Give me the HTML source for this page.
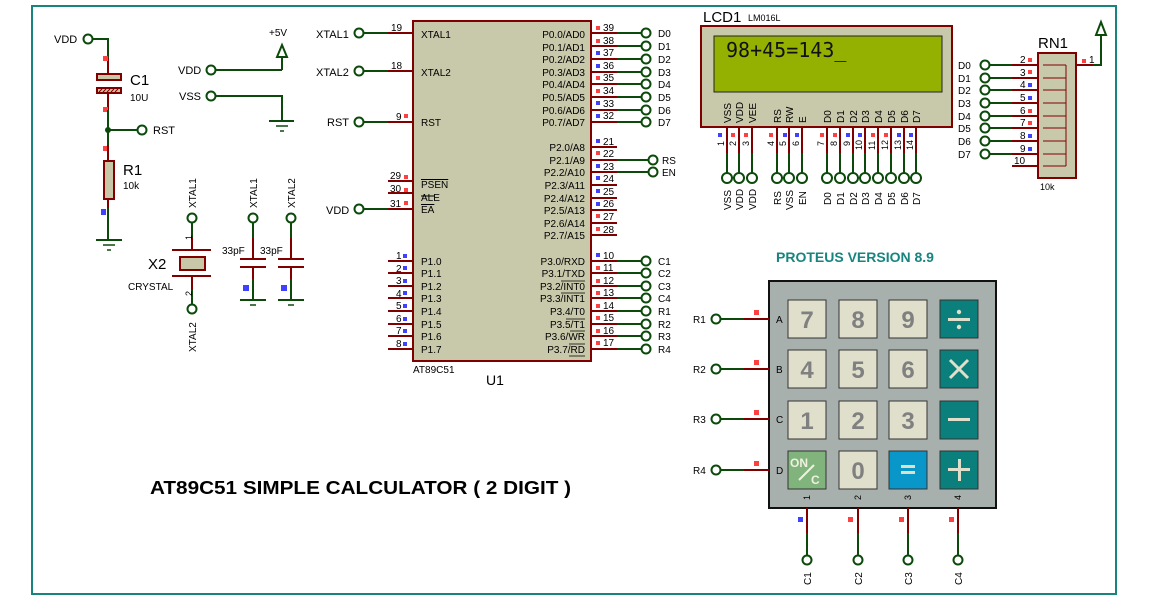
<!DOCTYPE html>
<html><head><meta charset="utf-8"><style>
html,body{margin:0;padding:0;background:#fff;}
svg{display:block;font-family:"Liberation Sans",Arial,sans-serif;}
.w{stroke:#0b4a0b;stroke-width:2;fill:none}
.p{stroke:#800000;stroke-width:2;fill:none}
.t{stroke:#0b4a0b;stroke-width:2;fill:#fff}
.s{font-size:10px;fill:#000}
.m{font-size:11px;fill:#000}
.r{fill:#ff4040}.b{fill:#4040ff}
.key{fill:#e0dfcc;stroke:#333;stroke-width:1}
.kt{font-size:24px;font-weight:bold;fill:#808080;text-anchor:middle}
</style></head><body>
<svg width="1155" height="599" viewBox="0 0 1155 599" xmlns="http://www.w3.org/2000/svg">
<rect x="32" y="6" width="1084" height="588" fill="none" stroke="#17847f" stroke-width="2"/>

<!-- VDD / C1 / R1 -->
<text x="54" y="43" class="m">VDD</text>
<circle cx="88" cy="39" r="4.5" class="t"/>
<path d="M93 39H108V58" class="w"/>
<path d="M108 58V73M108 93V110" class="p"/>
<rect x="103" y="56" width="5" height="5" class="r"/>
<rect x="97" y="74" width="24" height="6" fill="#c8c8a8" stroke="#800000" stroke-width="2"/>
<rect x="97" y="88" width="24" height="5" fill="#c8c8a8" stroke="#800000" stroke-width="2"/>
<path d="M99 92l3-3M103 92l3-3M107 92l3-3M111 92l3-3M115 92l3-3" stroke="#800000" stroke-width="1"/>
<text x="130" y="85" font-size="15">C1</text>
<text x="130" y="101" class="s">10U</text>
<rect x="103" y="107" width="5" height="5" class="r"/>
<path d="M108 110V161" class="w"/>
<circle cx="108" cy="130" r="3" fill="#0b4a0b"/>
<path d="M108 130H138" class="w"/>
<circle cx="142" cy="130" r="4.5" class="t"/>
<text x="153" y="134" class="m">RST</text>
<rect x="103" y="146" width="5" height="5" class="r"/>
<path d="M108 145V161M108 199V208" class="p"/>
<rect x="104" y="161" width="10" height="38" fill="#c8c8a8" stroke="#800000" stroke-width="2"/>
<text x="123" y="175" font-size="15">R1</text>
<text x="123" y="189" class="s">10k</text>
<rect x="101" y="209" width="5" height="6" class="b"/>
<path d="M108 208V240" class="w"/>
<path d="M96 240H122" class="w"/><path d="M103 245H115M107 250H111" stroke="#0b4a0b" stroke-width="1.5"/>

<!-- +5V / VSS -->
<text x="269" y="36" class="s">+5V</text>
<path d="M282 45L277 57H287Z M282 57V70" class="w"/>
<text x="178" y="74" class="m">VDD</text>
<circle cx="211" cy="70" r="4.5" class="t"/>
<path d="M216 70H282" class="w"/>
<text x="179" y="100" class="m">VSS</text>
<circle cx="211" cy="96" r="4.5" class="t"/>
<path d="M216 96H282V121M269 121H294" class="w"/>
<path d="M276 126H288M280 131H284" stroke="#0b4a0b" stroke-width="1.5"/>

<!-- X2 crystal -->
<text transform="translate(196,208) rotate(-90)" class="s">XTAL1</text>
<circle cx="192" cy="218" r="4.5" class="t"/>
<path d="M192 223V237" class="w"/><path d="M192 237V250M192 276V290" class="p"/>
<path d="M192 290V304" class="w"/>
<text transform="translate(192,240) rotate(-90)" font-size="9">1</text>
<text transform="translate(192,296) rotate(-90)" font-size="9">2</text>
<path d="M172 250H211M172 276H211" class="p"/>
<rect x="180" y="257" width="25" height="13" fill="#c8c8a8" stroke="#800000" stroke-width="2"/>
<text x="148" y="269" font-size="15">X2</text>
<text x="128" y="290" class="s">CRYSTAL</text>
<circle cx="192" cy="309" r="4.5" class="t"/>
<text transform="translate(196,352) rotate(-90)" class="s">XTAL2</text>

<!-- 33pF caps -->
<text transform="translate(257,208) rotate(-90)" class="s">XTAL1</text>
<text transform="translate(295,208) rotate(-90)" class="s">XTAL2</text>
<circle cx="253" cy="218" r="4.5" class="t"/><circle cx="291" cy="218" r="4.5" class="t"/>
<path d="M253 223V238M291 223V238M253 279V300M291 279V300" class="w"/>
<path d="M253 238V259M291 238V259M253 267V279M291 267V279M240 259H266M240 267H266M278 259H304M278 267H304" class="p"/>
<text x="222" y="254" class="s">33pF</text><text x="260" y="254" class="s">33pF</text>
<rect x="243" y="285" width="6" height="6" class="b"/><rect x="281" y="285" width="6" height="6" class="b"/>
<path d="M240 300H266M278 300H304" class="w"/>
<path d="M250 305H256M288 305H294" stroke="#0b4a0b" stroke-width="1.5"/>

<!-- U1 -->
<rect x="413" y="21" width="178" height="340" fill="#c8c8ab" stroke="#800000" stroke-width="2"/>
<g class="m">
<text x="316" y="38">XTAL1</text><text x="316" y="76">XTAL2</text><text x="327" y="126">RST</text><text x="326" y="214">VDD</text>
</g>
<circle cx="359" cy="33" r="4.5" class="t"/><circle cx="359" cy="71" r="4.5" class="t"/><circle cx="359" cy="122" r="4.5" class="t"/><circle cx="359" cy="209" r="4.5" class="t"/>
<path d="M364 33H388M364 71H388M364 122H388M364 209H388" class="w"/>
<path d="M388 33H413M388 71H413M388 122H413M388 181H413M388 193H413M388 209H413M388 261H413M388 273H413M388 286H413M388 298H413M388 311H413M388 324H413M388 336H413M388 349H413" class="p"/>
<g class="s">
<text x="391" y="31">19</text><text x="391" y="69">18</text><text x="396" y="120">9</text>
<text x="390" y="179">29</text><text x="390" y="192">30</text><text x="390" y="207">31</text>
<text x="396" y="259">1</text><text x="396" y="272">2</text><text x="396" y="284">3</text><text x="396" y="297">4</text><text x="396" y="309">5</text><text x="396" y="322">6</text><text x="396" y="334">7</text><text x="396" y="347">8</text>
</g>
<rect x="404" y="114" width="4" height="4" class="r"/><rect x="404" y="175" width="4" height="4" class="r"/><rect x="404" y="188" width="4" height="4" class="r"/><rect x="404" y="201" width="4" height="4" class="r"/>
<g class="b"><rect x="403" y="254" width="4" height="4"/><rect x="403" y="266" width="4" height="4"/><rect x="403" y="279" width="4" height="4"/><rect x="403" y="291" width="4" height="4"/><rect x="403" y="304" width="4" height="4"/><rect x="403" y="317" width="4" height="4"/><rect x="403" y="329" width="4" height="4"/><rect x="403" y="342" width="4" height="4"/></g>
<g class="s">
<text x="421" y="38">XTAL1</text><text x="421" y="76">XTAL2</text><text x="421" y="126">RST</text>
<text x="421" y="188" text-decoration="overline">PSEN</text><text x="421" y="201">ALE</text><text x="421" y="213" text-decoration="overline">EA</text>
<text x="421" y="265">P1.0</text><text x="421" y="277">P1.1</text><text x="421" y="290">P1.2</text><text x="421" y="302">P1.3</text><text x="421" y="315">P1.4</text><text x="421" y="328">P1.5</text><text x="421" y="340">P1.6</text><text x="421" y="353">P1.7</text>
</g>
<path d="M421 196H435" stroke="#000" stroke-width="1"/>
<g class="s" text-anchor="end">
<text x="585" y="38">P0.0/AD0</text><text x="585" y="51">P0.1/AD1</text><text x="585" y="63">P0.2/AD2</text><text x="585" y="76">P0.3/AD3</text><text x="585" y="88">P0.4/AD4</text><text x="585" y="101">P0.5/AD5</text><text x="585" y="114">P0.6/AD6</text><text x="585" y="126">P0.7/AD7</text>
<text x="585" y="151">P2.0/A8</text><text x="585" y="164">P2.1/A9</text><text x="585" y="176">P2.2/A10</text><text x="585" y="189">P2.3/A11</text><text x="585" y="202">P2.4/A12</text><text x="585" y="214">P2.5/A13</text><text x="585" y="227">P2.6/A14</text><text x="585" y="239">P2.7/A15</text>
<text x="585" y="265">P3.0/RXD</text><text x="585" y="277">P3.1/TXD</text><text x="585" y="290">P3.2/INT0</text><text x="585" y="302">P3.3/INT1</text><text x="585" y="315">P3.4/T0</text><text x="585" y="328">P3.5/T1</text><text x="585" y="340">P3.6/WR</text><text x="585" y="353">P3.7/RD</text>
</g>
<path d="M561 281H585M561 293H585M566 319H585M570 331H585M569 344H585M569 356H585" stroke="#000" stroke-width="0.8"/>
<path d="M591 33H617M591 46H617M591 59H617M591 72H617M591 84H617M591 97H617M591 110H617M591 122H617M591 147H617M591 160H617M591 172H617M591 185H617M591 198H617M591 210H617M591 223H617M591 235H617M591 261H617M591 273H617M591 286H617M591 298H617M591 311H617M591 324H617M591 336H617M591 349H617" class="p"/>
<path d="M617 33H641M617 46H641M617 59H641M617 72H641M617 84H641M617 97H641M617 110H641M617 122H641M617 160H648M617 172H648M617 261H641M617 273H641M617 286H641M617 298H641M617 311H641M617 324H641M617 336H641M617 349H641" class="w"/>
<g class="s">
<text x="603" y="31">39</text><text x="603" y="44">38</text><text x="603" y="56">37</text><text x="603" y="69">36</text><text x="603" y="81">35</text><text x="603" y="94">34</text><text x="603" y="107">33</text><text x="603" y="119">32</text>
<text x="603" y="145">21</text><text x="603" y="157">22</text><text x="603" y="170">23</text><text x="603" y="182">24</text><text x="603" y="195">25</text><text x="603" y="207">26</text><text x="603" y="220">27</text><text x="603" y="233">28</text>
<text x="603" y="259">10</text><text x="603" y="271">11</text><text x="603" y="284">12</text><text x="603" y="296">13</text><text x="603" y="309">14</text><text x="603" y="321">15</text><text x="603" y="334">16</text><text x="603" y="346">17</text>
</g>
<g class="r"><rect x="596" y="26" width="4" height="4"/><rect x="596" y="39" width="4" height="4"/><rect x="596" y="76" width="4" height="4"/><rect x="596" y="89" width="4" height="4"/><rect x="596" y="151" width="4" height="4"/><rect x="596" y="214" width="4" height="4"/><rect x="596" y="227" width="4" height="4"/><rect x="596" y="266" width="4" height="4"/><rect x="596" y="279" width="4" height="4"/><rect x="596" y="291" width="4" height="4"/><rect x="596" y="304" width="4" height="4"/><rect x="596" y="316" width="4" height="4"/><rect x="596" y="329" width="4" height="4"/><rect x="596" y="341" width="4" height="4"/></g>
<g class="b"><rect x="596" y="51" width="4" height="4"/><rect x="596" y="64" width="4" height="4"/><rect x="596" y="101" width="4" height="4"/><rect x="596" y="114" width="4" height="4"/><rect x="596" y="139" width="4" height="4"/><rect x="596" y="164" width="4" height="4"/><rect x="596" y="176" width="4" height="4"/><rect x="596" y="189" width="4" height="4"/><rect x="596" y="202" width="4" height="4"/><rect x="596" y="253" width="4" height="4"/></g>
<g fill="#fff" stroke="#0b4a0b" stroke-width="2">
<circle cx="646" cy="33" r="4.5"/><circle cx="646" cy="46" r="4.5"/><circle cx="646" cy="59" r="4.5"/><circle cx="646" cy="72" r="4.5"/><circle cx="646" cy="84" r="4.5"/><circle cx="646" cy="97" r="4.5"/><circle cx="646" cy="110" r="4.5"/><circle cx="646" cy="122" r="4.5"/>
<circle cx="653" cy="160" r="4.5"/><circle cx="653" cy="172" r="4.5"/>
<circle cx="646" cy="261" r="4.5"/><circle cx="646" cy="273" r="4.5"/><circle cx="646" cy="286" r="4.5"/><circle cx="646" cy="298" r="4.5"/><circle cx="646" cy="311" r="4.5"/><circle cx="646" cy="324" r="4.5"/><circle cx="646" cy="336" r="4.5"/><circle cx="646" cy="349" r="4.5"/>
</g>
<g class="s">
<text x="658" y="37">D0</text><text x="658" y="50">D1</text><text x="658" y="63">D2</text><text x="658" y="76">D3</text><text x="658" y="88">D4</text><text x="658" y="101">D5</text><text x="658" y="114">D6</text><text x="658" y="126">D7</text>
<text x="662" y="164">RS</text><text x="662" y="176">EN</text>
<text x="658" y="265">C1</text><text x="658" y="277">C2</text><text x="658" y="290">C3</text><text x="658" y="302">C4</text><text x="658" y="315">R1</text><text x="658" y="328">R2</text><text x="658" y="340">R3</text><text x="658" y="353">R4</text>
</g>
<text x="413" y="373" class="s">AT89C51</text>
<text x="486" y="385" font-size="14">U1</text>

<!-- LCD -->
<text x="703" y="22" font-size="15">LCD1</text><text x="748" y="21" font-size="9">LM016L</text>
<rect x="701" y="26" width="251" height="101" fill="#c8c8ab" stroke="#800000" stroke-width="2"/>
<rect x="714" y="36" width="228" height="56" fill="#94b000" stroke="#222" stroke-width="1"/>
<text x="726" y="57" font-family="'DejaVu Sans Mono','Liberation Mono',monospace" font-size="20" fill="#111">98+45=143_</text>
<g font-size="10">
<text transform="translate(731,123) rotate(-90)">VSS</text><text transform="translate(743,123) rotate(-90)">VDD</text><text transform="translate(756,123) rotate(-90)">VEE</text>
<text transform="translate(781,123) rotate(-90)">RS</text><text transform="translate(793,123) rotate(-90)">RW</text><text transform="translate(806,123) rotate(-90)">E</text>
<text transform="translate(831,123) rotate(-90)">D0</text><text transform="translate(844,123) rotate(-90)">D1</text><text transform="translate(857,123) rotate(-90)">D2</text><text transform="translate(869,123) rotate(-90)">D3</text><text transform="translate(882,123) rotate(-90)">D4</text><text transform="translate(895,123) rotate(-90)">D5</text><text transform="translate(908,123) rotate(-90)">D6</text><text transform="translate(920,123) rotate(-90)">D7</text>
</g>
<path d="M727 127V153M739 127V153M752 127V153M777 127V153M789 127V153M802 127V153M827 127V153M840 127V153M853 127V153M865 127V153M878 127V153M891 127V153M904 127V153M916 127V153" class="p"/>
<path d="M727 153V173M739 153V173M752 153V173M777 153V173M789 153V173M802 153V173M827 153V173M840 153V173M853 153V173M865 153V173M878 153V173M891 153V173M904 153V173M916 153V173" class="w"/>
<g fill="#fff" stroke="#0b4a0b" stroke-width="2">
<circle cx="727" cy="178" r="5"/><circle cx="739" cy="178" r="5"/><circle cx="752" cy="178" r="5"/><circle cx="777" cy="178" r="5"/><circle cx="789" cy="178" r="5"/><circle cx="802" cy="178" r="5"/><circle cx="827" cy="178" r="5"/><circle cx="840" cy="178" r="5"/><circle cx="853" cy="178" r="5"/><circle cx="865" cy="178" r="5"/><circle cx="878" cy="178" r="5"/><circle cx="891" cy="178" r="5"/><circle cx="904" cy="178" r="5"/><circle cx="916" cy="178" r="5"/>
</g>
<g font-size="9">
<text transform="translate(724,146) rotate(-90)">1</text><text transform="translate(736,146) rotate(-90)">2</text><text transform="translate(749,146) rotate(-90)">3</text><text transform="translate(774,146) rotate(-90)">4</text><text transform="translate(786,146) rotate(-90)">5</text><text transform="translate(799,146) rotate(-90)">6</text><text transform="translate(824,146) rotate(-90)">7</text><text transform="translate(837,146) rotate(-90)">8</text><text transform="translate(850,146) rotate(-90)">9</text><text transform="translate(862,150) rotate(-90)">10</text><text transform="translate(875,150) rotate(-90)">11</text><text transform="translate(888,150) rotate(-90)">12</text><text transform="translate(901,150) rotate(-90)">13</text><text transform="translate(913,150) rotate(-90)">14</text>
</g>
<g class="b"><rect x="718" y="133" width="4" height="4"/><rect x="783" y="133" width="4" height="4"/><rect x="795" y="133" width="4" height="4"/><rect x="846" y="133" width="4" height="4"/><rect x="858" y="133" width="4" height="4"/><rect x="897" y="133" width="4" height="4"/><rect x="909" y="133" width="4" height="4"/></g>
<g class="r"><rect x="731" y="133" width="4" height="4"/><rect x="744" y="133" width="4" height="4"/><rect x="769" y="133" width="4" height="4"/><rect x="820" y="133" width="4" height="4"/><rect x="833" y="133" width="4" height="4"/><rect x="871" y="133" width="4" height="4"/><rect x="884" y="133" width="4" height="4"/></g>
<g font-size="10">
<text transform="translate(731,210) rotate(-90)">VSS</text><text transform="translate(743,210) rotate(-90)">VDD</text><text transform="translate(756,210) rotate(-90)">VDD</text>
<text transform="translate(781,205) rotate(-90)">RS</text><text transform="translate(793,210) rotate(-90)">VSS</text><text transform="translate(806,205) rotate(-90)">EN</text>
<text transform="translate(831,205) rotate(-90)">D0</text><text transform="translate(844,205) rotate(-90)">D1</text><text transform="translate(857,205) rotate(-90)">D2</text><text transform="translate(869,205) rotate(-90)">D3</text><text transform="translate(882,205) rotate(-90)">D4</text><text transform="translate(895,205) rotate(-90)">D5</text><text transform="translate(908,205) rotate(-90)">D6</text><text transform="translate(920,205) rotate(-90)">D7</text>
</g>

<!-- RN1 -->
<text x="1038" y="48" font-size="15">RN1</text>
<rect x="1038" y="53" width="38" height="125" fill="#c8c8ab" stroke="#800000" stroke-width="2"/>
<path d="M1076 65H1101V35M1101 22L1096 35H1106Z" class="w"/>
<path d="M1076 65H1093" class="p"/>
<rect x="1082" y="59" width="4" height="4" class="r"/><text x="1089" y="63" class="s">1</text>
<path d="M1012 65H1038M1012 78H1038M1012 90H1038M1012 103H1038M1012 116H1038M1012 128H1038M1012 141H1038M1012 154H1038M1012 166H1038" class="p"/>
<path d="M989 65H1012M989 78H1012M989 90H1012M989 103H1012M989 116H1012M989 128H1012M989 141H1012M989 154H1012" class="w"/>
<g stroke="#800000" stroke-width="1" fill="none">
<path d="M1043 65H1066M1043 78H1066M1043 90H1066M1043 103H1066M1043 116H1066M1043 128H1066M1043 141H1066M1043 154H1066M1043 166H1066M1066 65V166"/>
</g>
<g class="s">
<text x="1020" y="63">2</text><text x="1020" y="76">3</text><text x="1020" y="88">4</text><text x="1020" y="101">5</text><text x="1020" y="114">6</text><text x="1020" y="126">7</text><text x="1020" y="139">8</text><text x="1020" y="152">9</text><text x="1014" y="164">10</text>
</g>
<g class="r"><rect x="1028" y="58" width="4" height="4"/><rect x="1028" y="70" width="4" height="4"/><rect x="1028" y="109" width="4" height="4"/><rect x="1028" y="121" width="4" height="4"/></g>
<g class="b"><rect x="1028" y="83" width="4" height="4"/><rect x="1028" y="96" width="4" height="4"/><rect x="1028" y="134" width="4" height="4"/><rect x="1028" y="147" width="4" height="4"/></g>
<g fill="#fff" stroke="#0b4a0b" stroke-width="2"><circle cx="985" cy="65" r="4.5"/><circle cx="985" cy="78" r="4.5"/><circle cx="985" cy="90" r="4.5"/><circle cx="985" cy="103" r="4.5"/><circle cx="985" cy="116" r="4.5"/><circle cx="985" cy="128" r="4.5"/><circle cx="985" cy="141" r="4.5"/><circle cx="985" cy="154" r="4.5"/></g>
<g class="s"><text x="958" y="69">D0</text><text x="958" y="82">D1</text><text x="958" y="94">D2</text><text x="958" y="107">D3</text><text x="958" y="120">D4</text><text x="958" y="132">D5</text><text x="958" y="145">D6</text><text x="958" y="158">D7</text></g>
<text x="1040" y="190" font-size="9">10k</text>

<!-- Keypad -->
<text x="776" y="262" font-size="14" font-weight="bold" fill="#17847f">PROTEUS VERSION 8.9</text>
<rect x="769" y="281" width="227" height="227" fill="#a8b0ae" stroke="#111" stroke-width="2"/>
<path d="M721 319H744M721 369H744M721 419H744M721 470H744" class="w"/>
<path d="M744 319H769M744 369H769M744 419H769M744 470H769" class="p"/>
<g class="r"><rect x="754" y="310" width="5" height="5"/><rect x="754" y="360" width="5" height="5"/><rect x="754" y="410" width="5" height="5"/><rect x="754" y="461" width="5" height="5"/></g>
<g fill="#fff" stroke="#0b4a0b" stroke-width="2"><circle cx="716" cy="319" r="4.5"/><circle cx="716" cy="369" r="4.5"/><circle cx="716" cy="419" r="4.5"/><circle cx="716" cy="470" r="4.5"/></g>
<g class="s"><text x="693" y="323">R1</text><text x="693" y="373">R2</text><text x="693" y="423">R3</text><text x="693" y="474">R4</text>
<text x="776" y="323">A</text><text x="776" y="373">B</text><text x="776" y="423">C</text><text x="776" y="474">D</text></g>
<rect x="788" y="300" width="38" height="38" class="key"/><rect x="839" y="300" width="38" height="38" class="key"/><rect x="889" y="300" width="38" height="38" class="key"/><rect x="940" y="300" width="38" height="38" fill="#0b7f7b" stroke="#333"/>
<rect x="788" y="350" width="38" height="38" class="key"/><rect x="839" y="350" width="38" height="38" class="key"/><rect x="889" y="350" width="38" height="38" class="key"/><rect x="940" y="350" width="38" height="38" fill="#0b7f7b" stroke="#333"/>
<rect x="788" y="401" width="38" height="38" class="key"/><rect x="839" y="401" width="38" height="38" class="key"/><rect x="889" y="401" width="38" height="38" class="key"/><rect x="940" y="401" width="38" height="38" fill="#0b7f7b" stroke="#333"/>
<rect x="788" y="451" width="38" height="38" fill="#80b47c" stroke="#333"/><rect x="839" y="451" width="38" height="38" class="key"/><rect x="889" y="451" width="38" height="38" fill="#0996c8" stroke="#333"/><rect x="940" y="451" width="38" height="38" fill="#0b7f7b" stroke="#333"/>
<text x="807" y="328" class="kt">7</text><text x="858" y="328" class="kt">8</text><text x="908" y="328" class="kt">9</text>
<text x="807" y="378" class="kt">4</text><text x="858" y="378" class="kt">5</text><text x="908" y="378" class="kt">6</text>
<text x="807" y="429" class="kt">1</text><text x="858" y="429" class="kt">2</text><text x="908" y="429" class="kt">3</text>
<text x="858" y="479" class="kt">0</text>
<g fill="#e0dfcc"><rect x="948" y="318" width="22" height="3"/><circle cx="959" cy="312" r="2.2"/><circle cx="959" cy="327" r="2.2"/>
<rect x="948" y="418" width="22" height="3"/><rect x="948" y="468" width="22" height="3"/><rect x="958" y="459" width="3" height="22"/>
<rect x="901" y="465" width="14" height="3"/><rect x="901" y="471" width="14" height="3"/></g>
<path d="M950 360L968 378M968 360L950 378" stroke="#e0dfcc" stroke-width="3"/>
<text x="790" y="467" font-size="12" font-weight="bold" fill="#f0f0e0">ON</text>
<path d="M799 480L814 465" stroke="#f0f0e0" stroke-width="2"/>
<text x="811" y="484" font-size="12" font-weight="bold" fill="#f0f0e0">C</text>
<g font-size="9"><text transform="translate(810,500) rotate(-90)">1</text><text transform="translate(861,500) rotate(-90)">2</text><text transform="translate(911,500) rotate(-90)">3</text><text transform="translate(961,500) rotate(-90)">4</text></g>
<path d="M807 508V533M858 508V533M908 508V533M958 508V533" class="p"/>
<path d="M807 533V555M858 533V555M908 533V555M958 533V555" class="w"/>
<rect x="798" y="517" width="5" height="5" class="b"/><g class="r"><rect x="848" y="517" width="5" height="5"/><rect x="899" y="517" width="5" height="5"/><rect x="949" y="517" width="5" height="5"/></g>
<g fill="#fff" stroke="#0b4a0b" stroke-width="2"><circle cx="807" cy="560" r="4.5"/><circle cx="858" cy="560" r="4.5"/><circle cx="908" cy="560" r="4.5"/><circle cx="958" cy="560" r="4.5"/></g>
<g class="s"><text transform="translate(811,585) rotate(-90)">C1</text><text transform="translate(862,585) rotate(-90)">C2</text><text transform="translate(912,585) rotate(-90)">C3</text><text transform="translate(962,585) rotate(-90)">C4</text></g>

<text x="150" y="494" font-size="18" font-weight="bold" textLength="421" lengthAdjust="spacingAndGlyphs">AT89C51 SIMPLE CALCULATOR ( 2 DIGIT )</text>
</svg>
</body></html>
